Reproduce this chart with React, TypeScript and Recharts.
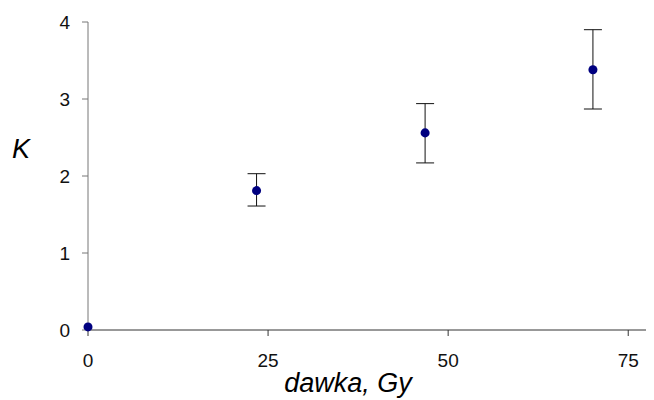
import React from "react";
import {
  ScatterChart,
  Scatter,
  XAxis,
  YAxis,
  ZAxis,
  ErrorBar,
  Label,
} from "recharts";

const doses = [0, 23.4, 46.8, 70.1];
const kValues = [0.04, 1.81, 2.56, 3.38];
const errLow = [0, 0.2, 0.39, 0.51];
const errHigh = [0, 0.22, 0.38, 0.52];
const xTicks = [0, 25, 50, 75];
const yTicks = [0, 1, 2, 3, 4];

const data = doses.map((d, i) => ({
  x: d,
  y: kValues[i],
  err: i === 0 ? null : [errLow[i], errHigh[i]],
}));

const font = "'Liberation Sans', Arial, sans-serif";

export default function App() {
  return (
    <ScatterChart
      width={646}
      height={392}
      margin={{ top: 14, right: 2, left: 0, bottom: 0 }}
      style={{ fontFamily: font }}
    >
      <XAxis
        type="number"
        dataKey="x"
        domain={[0, 78.3]}
        ticks={xTicks}
        height={70}
        stroke="#333"
        tickSize={6}
        tickMargin={18}
        tick={{ fill: "#111", fontSize: 19, fontFamily: font }}
      >
        <Label
          value="dawka, Gy"
          position="insideBottom"
          offset={0}
          dx={-22}
          dy={-8}
          style={{ fontSize: 27, fontStyle: "italic", fill: "#000", fontFamily: font }}
        />
      </XAxis>
      <YAxis
        type="number"
        dataKey="y"
        domain={[0, 4]}
        ticks={yTicks}
        width={80}
        stroke="#777"
        tickSize={6}
        tickMargin={12}
        tick={{ fill: "#111", fontSize: 19, fontFamily: font }}
      >
        <Label
          value="K"
          position="insideLeft"
          offset={4}
          dy={-28}
          style={{ fontSize: 27, fontStyle: "italic", fill: "#000", fontFamily: font }}
        />
      </YAxis>
      <ZAxis range={[80, 80]} />
      <Scatter data={data} fill="#000080" isAnimationActive={false}>
        <ErrorBar dataKey="err" direction="y" width={9} stroke="#111" strokeWidth={1} />
      </Scatter>
    </ScatterChart>
  );
}
